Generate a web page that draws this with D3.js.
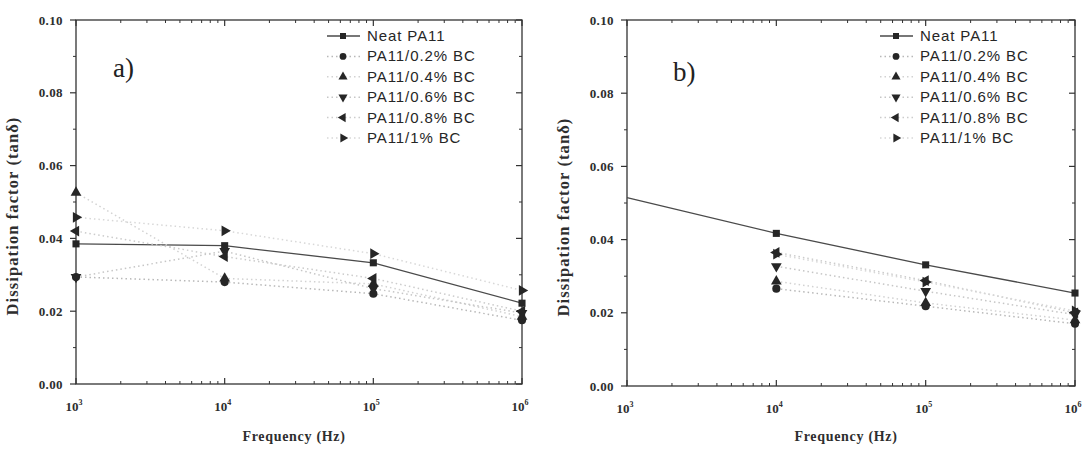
<!DOCTYPE html>
<html>
<head>
<meta charset="utf-8">
<script src="https://cdn.jsdelivr.net/npm/d3@7"></script>
<style>
  html, body { margin: 0; padding: 0; background: #fff; }
  svg { display: block; }
</style>
</head>
<body>
<div id="chart"></div>
<script>
// frequencies (Hz) and tick values
const frequencies = [1e3, 1e4, 1e5, 1e6];
const yTicks = [0, 0.02, 0.04, 0.06, 0.08, 0.10];
const seriesNames = ['Neat PA11', 'PA11/0.2% BC', 'PA11/0.4% BC', 'PA11/0.6% BC', 'PA11/0.8% BC', 'PA11/1% BC'];
const panelLabels = ['a)', 'b)'];

// panel a) values
const neatA = [0.0385, 0.0380, 0.0333, 0.0222];
const bc02A = [0.0294, 0.0280, 0.0248, 0.0175];
const bc04A = [0.0526, 0.0290, 0.0275, 0.0185];
const bc06A = [0.0294, 0.0365, 0.0262, 0.0195];
const bc08A = [0.0420, 0.0350, 0.0290, 0.0200];
const bc1A = [0.0458, 0.0421, 0.0358, 0.0257];

// panel b) values (other series not visible at 10^3)
const neatB = [0.0515, 0.0417, 0.0331, 0.0254];
const bc02B = [null, 0.0266, 0.0218, 0.0170];
const bc04B = [null, 0.0286, 0.0227, 0.0180];
const bc06B = [null, 0.0327, 0.0259, 0.0195];
const bc08B = [null, 0.0365, 0.0288, 0.0200];
const bc1B = [null, 0.0360, 0.0284, 0.0205];

const chart = {
  width: 1085,
  height: 449,
  serif: '"Liberation Serif", "Times New Roman", serif',
  sans: '"Liberation Sans", Arial, sans-serif',
  symbols: [
    { type: d3.symbolSquare, rotate: 0 },
    { type: d3.symbolCircle, rotate: 0 },
    { type: d3.symbolTriangle, rotate: 0 },
    { type: d3.symbolTriangle, rotate: 180 },
    { type: d3.symbolTriangle, rotate: -90 },
    { type: d3.symbolTriangle, rotate: 90 }
  ],
  lineColors: ['#4a4a4a', '#b8b8b8', '#d2d2d2', '#c6c6c6', '#cccccc', '#d8d8d8'],

  init() {
    this.svg = d3.select('#chart').append('svg')
      .attr('width', this.width)
      .attr('height', this.height);

    this.drawPanel({ left: 76, right: 522, top: 20, bottom: 384, legendX: 327, label: panelLabels[0], labelX: 113, labelY: 77, markFrom: 0 },
      [neatA, bc02A, bc04A, bc06A, bc08A, bc1A]);
    this.drawPanel({ left: 627, right: 1075, top: 20, bottom: 386, legendX: 880, label: panelLabels[1], labelX: 673, labelY: 81, markFrom: 1 },
      [neatB, bc02B, bc04B, bc06B, bc08B, bc1B]);
  },

  drawPanel(p, series) {
    const g = this.svg.append('g');
    const x = d3.scaleLog().domain([1e3, 1e6]).range([p.left, p.right]);
    const y = d3.scaleLinear().domain([0, 0.10]).range([p.bottom, p.top]);

    this.drawAxes(g, p, x, y);

    // lines
    series.forEach((vals, i) => {
      const line = d3.line()
        .defined((d) => d != null)
        .x((d, j) => x(frequencies[j]))
        .y((d) => y(d));
      g.append('path')
        .attr('d', line(vals))
        .attr('fill', 'none')
        .attr('stroke', this.lineColors[i])
        .attr('stroke-width', i === 0 ? 1.3 : 1.5)
        .attr('stroke-dasharray', i === 0 ? null : '1.5,3');
    });

    // markers (drawn after lines)
    series.forEach((vals, i) => {
      const sym = this.symbols[i];
      vals.forEach((v, j) => {
        if (v == null || j < p.markFrom) return;
        g.append('path')
          .attr('d', d3.symbol().type(sym.type).size(i === 1 ? 52 : 50)())
          .attr('transform', `translate(${x(frequencies[j])},${y(v)}) rotate(${sym.rotate})`)
          .attr('fill', '#262626');
      });
    });

    this.drawLegend(g, p);

    g.append('text')
      .attr('x', p.labelX)
      .attr('y', p.labelY)
      .attr('font-family', this.serif)
      .attr('font-size', 27)
      .attr('fill', '#222')
      .text(p.label);
  },

  drawAxes(g, p, x, y) {
    const axisColor = '#333';
    const minorX = [];
    for (let e = 3; e < 6; e++) {
      for (let k = 2; k < 10; k++) minorX.push(k * Math.pow(10, e));
    }
    const minorY = [0.01, 0.03, 0.05, 0.07, 0.09];

    // frame
    g.append('rect')
      .attr('x', p.left)
      .attr('y', p.top)
      .attr('width', p.right - p.left)
      .attr('height', p.bottom - p.top)
      .attr('fill', 'none')
      .attr('stroke', axisColor)
      .attr('stroke-width', 1.3);

    const tick = (x1, y1, x2, y2, w) => {
      g.append('line')
        .attr('x1', x1).attr('y1', y1).attr('x2', x2).attr('y2', y2)
        .attr('stroke', axisColor)
        .attr('stroke-width', w);
    };

    // x ticks: inward on bottom and top
    frequencies.forEach((f) => {
      tick(x(f), p.bottom, x(f), p.bottom - 6, 1.2);
      tick(x(f), p.top, x(f), p.top + 6, 1.2);
    });
    minorX.forEach((f) => {
      tick(x(f), p.bottom, x(f), p.bottom - 3, 1);
      tick(x(f), p.top, x(f), p.top + 3, 1);
    });

    // y ticks: outward on left, inward on right
    yTicks.forEach((v) => {
      tick(p.left, y(v), p.left - 6, y(v), 1.2);
      tick(p.right, y(v), p.right - 6, y(v), 1.2);
    });
    minorY.forEach((v) => {
      tick(p.left, y(v), p.left - 3, y(v), 1);
      tick(p.right, y(v), p.right - 3, y(v), 1);
    });

    // y tick labels
    g.selectAll(null)
      .data(yTicks)
      .enter()
      .append('text')
      .attr('x', p.left - 13)
      .attr('y', (d) => y(d) + 4.5)
      .attr('text-anchor', 'end')
      .attr('font-family', this.serif)
      .attr('font-weight', 'bold')
      .attr('font-size', 13)
      .attr('letter-spacing', 0.4)
      .attr('fill', '#2e2e2e')
      .text((d) => d3.format('.2f')(d));

    // x tick labels 10^n
    const xl = g.selectAll(null)
      .data(frequencies)
      .enter()
      .append('text')
      .attr('x', (d) => x(d) - 2)
      .attr('y', p.bottom + 27)
      .attr('text-anchor', 'middle')
      .attr('font-family', this.serif)
      .attr('font-weight', 'bold')
      .attr('font-size', 13)
      .attr('fill', '#2e2e2e');
    xl.append('tspan').text('10');
    xl.append('tspan')
      .attr('dy', -6)
      .attr('font-size', 8)
      .text((d) => Math.round(Math.log10(d)));

    // axis titles
    const cx = (p.left + p.right) / 2;
    g.append('text')
      .attr('x', cx - 5)
      .attr('y', 441)
      .attr('text-anchor', 'middle')
      .attr('font-family', this.serif)
      .attr('font-weight', 'bold')
      .attr('font-size', 14)
      .attr('letter-spacing', 0.7)
      .attr('fill', '#2e2e2e')
      .text('Frequency (Hz)');

    const cy = (p.top + p.bottom) / 2;
    g.append('text')
      .attr('transform', `translate(${p.left - 58},${cy + 14}) rotate(-90)`)
      .attr('text-anchor', 'middle')
      .attr('font-family', this.serif)
      .attr('font-weight', 'bold')
      .attr('font-size', 16.5)
      .attr('letter-spacing', 1.1)
      .attr('fill', '#2e2e2e')
      .text('Dissipation factor (tanδ)');
  },

  drawLegend(g, p) {
    const rowH = 20.4;
    const top = 36;
    seriesNames.forEach((name, i) => {
      const ly = top + i * rowH;
      const sym = this.symbols[i];
      g.append('line')
        .attr('x1', p.legendX)
        .attr('x2', p.legendX + 33)
        .attr('y1', ly)
        .attr('y2', ly)
        .attr('stroke', this.lineColors[i])
        .attr('stroke-width', i === 0 ? 1.3 : 1.5)
        .attr('stroke-dasharray', i === 0 ? null : '1.5,3');
      g.append('path')
        .attr('d', d3.symbol().type(sym.type).size(36)())
        .attr('transform', `translate(${p.legendX + 16},${ly}) rotate(${sym.rotate})`)
        .attr('fill', '#262626');
      g.append('text')
        .attr('x', p.legendX + 40)
        .attr('y', ly + 5)
        .attr('font-family', this.sans)
        .attr('font-size', 15)
        .attr('letter-spacing', 0.9)
        .attr('fill', '#262626')
        .text(name);
    });
  }
};

chart.init();
</script>
</body>
</html>
